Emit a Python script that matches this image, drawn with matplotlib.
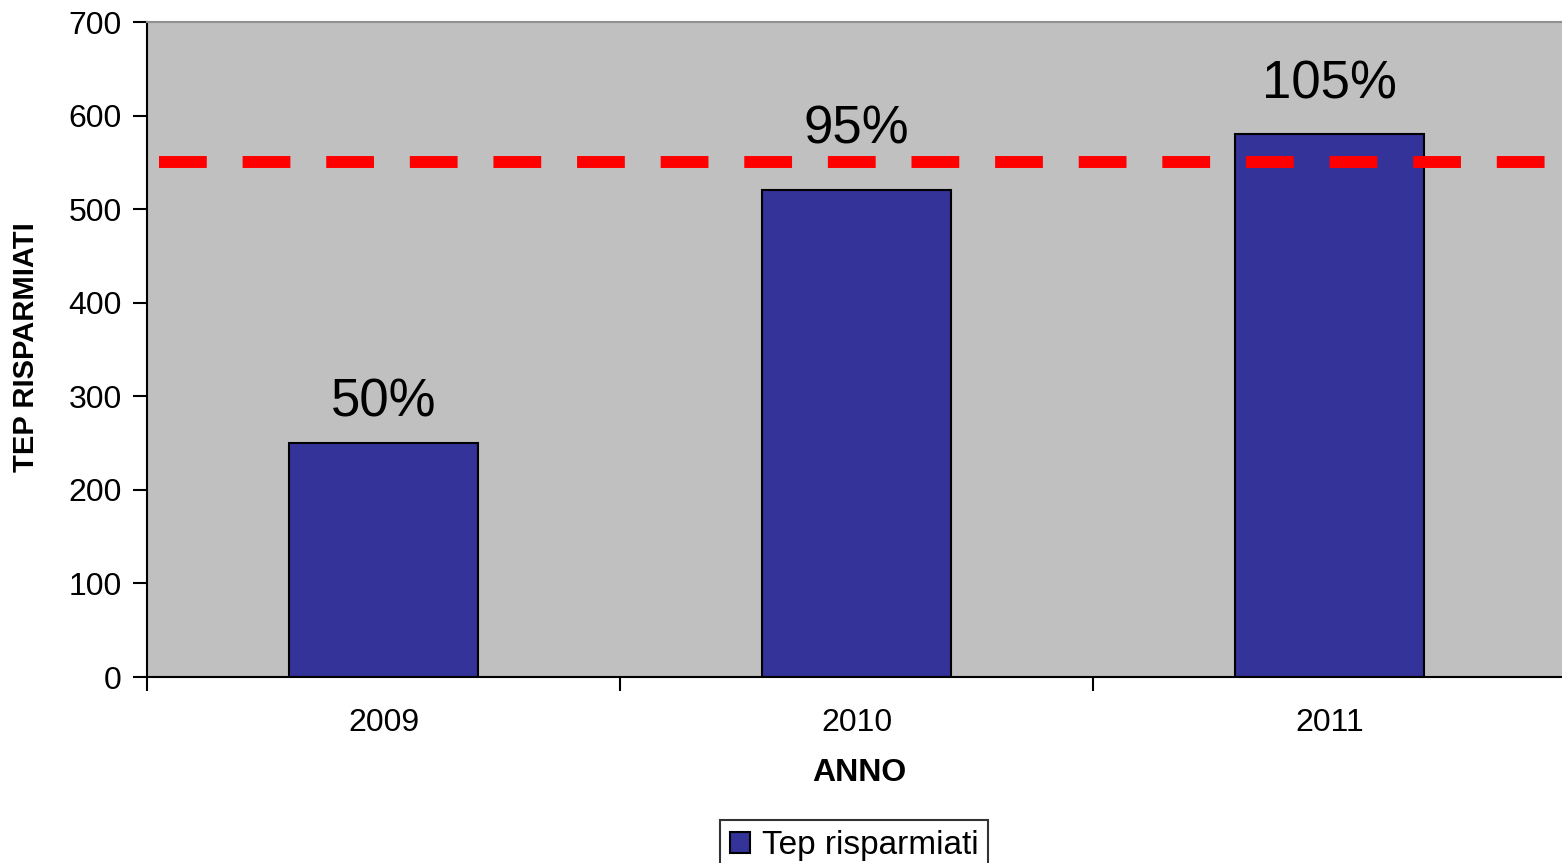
import numpy as np
import matplotlib.pyplot as plt

plt.rcParams['font.family'] = ['Liberation Sans', 'DejaVu Sans']

years = ['2009', '2010', '2011']
tep = [250, 521, 580]
pct_labels = ['50%', '95%', '105%']
label_offset = [43, 64, 53]
target = 550

fig = plt.figure(figsize=(15.62, 8.63), dpi=100)
ax = fig.add_axes([0.0941, 0.2155, 0.9085, 0.759])
ax.set_facecolor('#c0c0c0')

x = np.arange(len(years))
ax.bar(x, tep, width=0.40, color='#333399', edgecolor='black', linewidth=1.5,
       label='Tep risparmiati', zorder=2)
ax.axhline(target, xmin=0.0085, color='#ff0000', linewidth=8.6,
           dashes=(4, 3), zorder=3)

for xi, v, t, off in zip(x, tep, pct_labels, label_offset):
    ax.text(xi, v + off, t, ha='center', va='center', fontsize=38, zorder=4)

ax.set_xlim(-0.5, 2.5)
ax.set_ylim(0, 700)
ax.set_yticks(np.arange(0, 701, 100))
ax.set_xticks(x)
ax.set_xticklabels(years)
ax.set_xticks([-0.5, 0.5, 1.5, 2.5], minor=True)
ax.tick_params(axis='x', which='major', length=0, labelsize=23, pad=22)
ax.tick_params(axis='x', which='minor', length=10, width=1.5, direction='out')
ax.tick_params(axis='y', length=10, width=1.5, labelsize=23, pad=8)

for s in ['left', 'bottom']:
    ax.spines[s].set_linewidth(1.5)
ax.spines['top'].set_color('#909090')
ax.spines['top'].set_linewidth(1.5)
ax.spines['right'].set_visible(False)

ax.set_xlabel('ANNO', fontsize=23, fontweight='bold')
ax.set_ylabel('TEP RISPARMIATI', fontsize=21, fontweight='bold')
ax.xaxis.set_label_coords(0.5021, -0.1237)
ax.yaxis.set_label_coords(-0.0754, 0.504)

leg = fig.legend(loc='upper center', frameon=True,
                 fancybox=False, edgecolor='black', fontsize=24,
                 handlelength=0.6, handleheight=0.6, handletextpad=0.35,
                 borderpad=0.3, borderaxespad=0)
leg.get_frame().set_linewidth(1.5)
# legend box is cut by the lower edge in the original, anchor its top
leg.set_bbox_to_anchor((854 / 1562, 1 - 820 / 863), transform=fig.transFigure)

fig.savefig('out.png', dpi=100)
